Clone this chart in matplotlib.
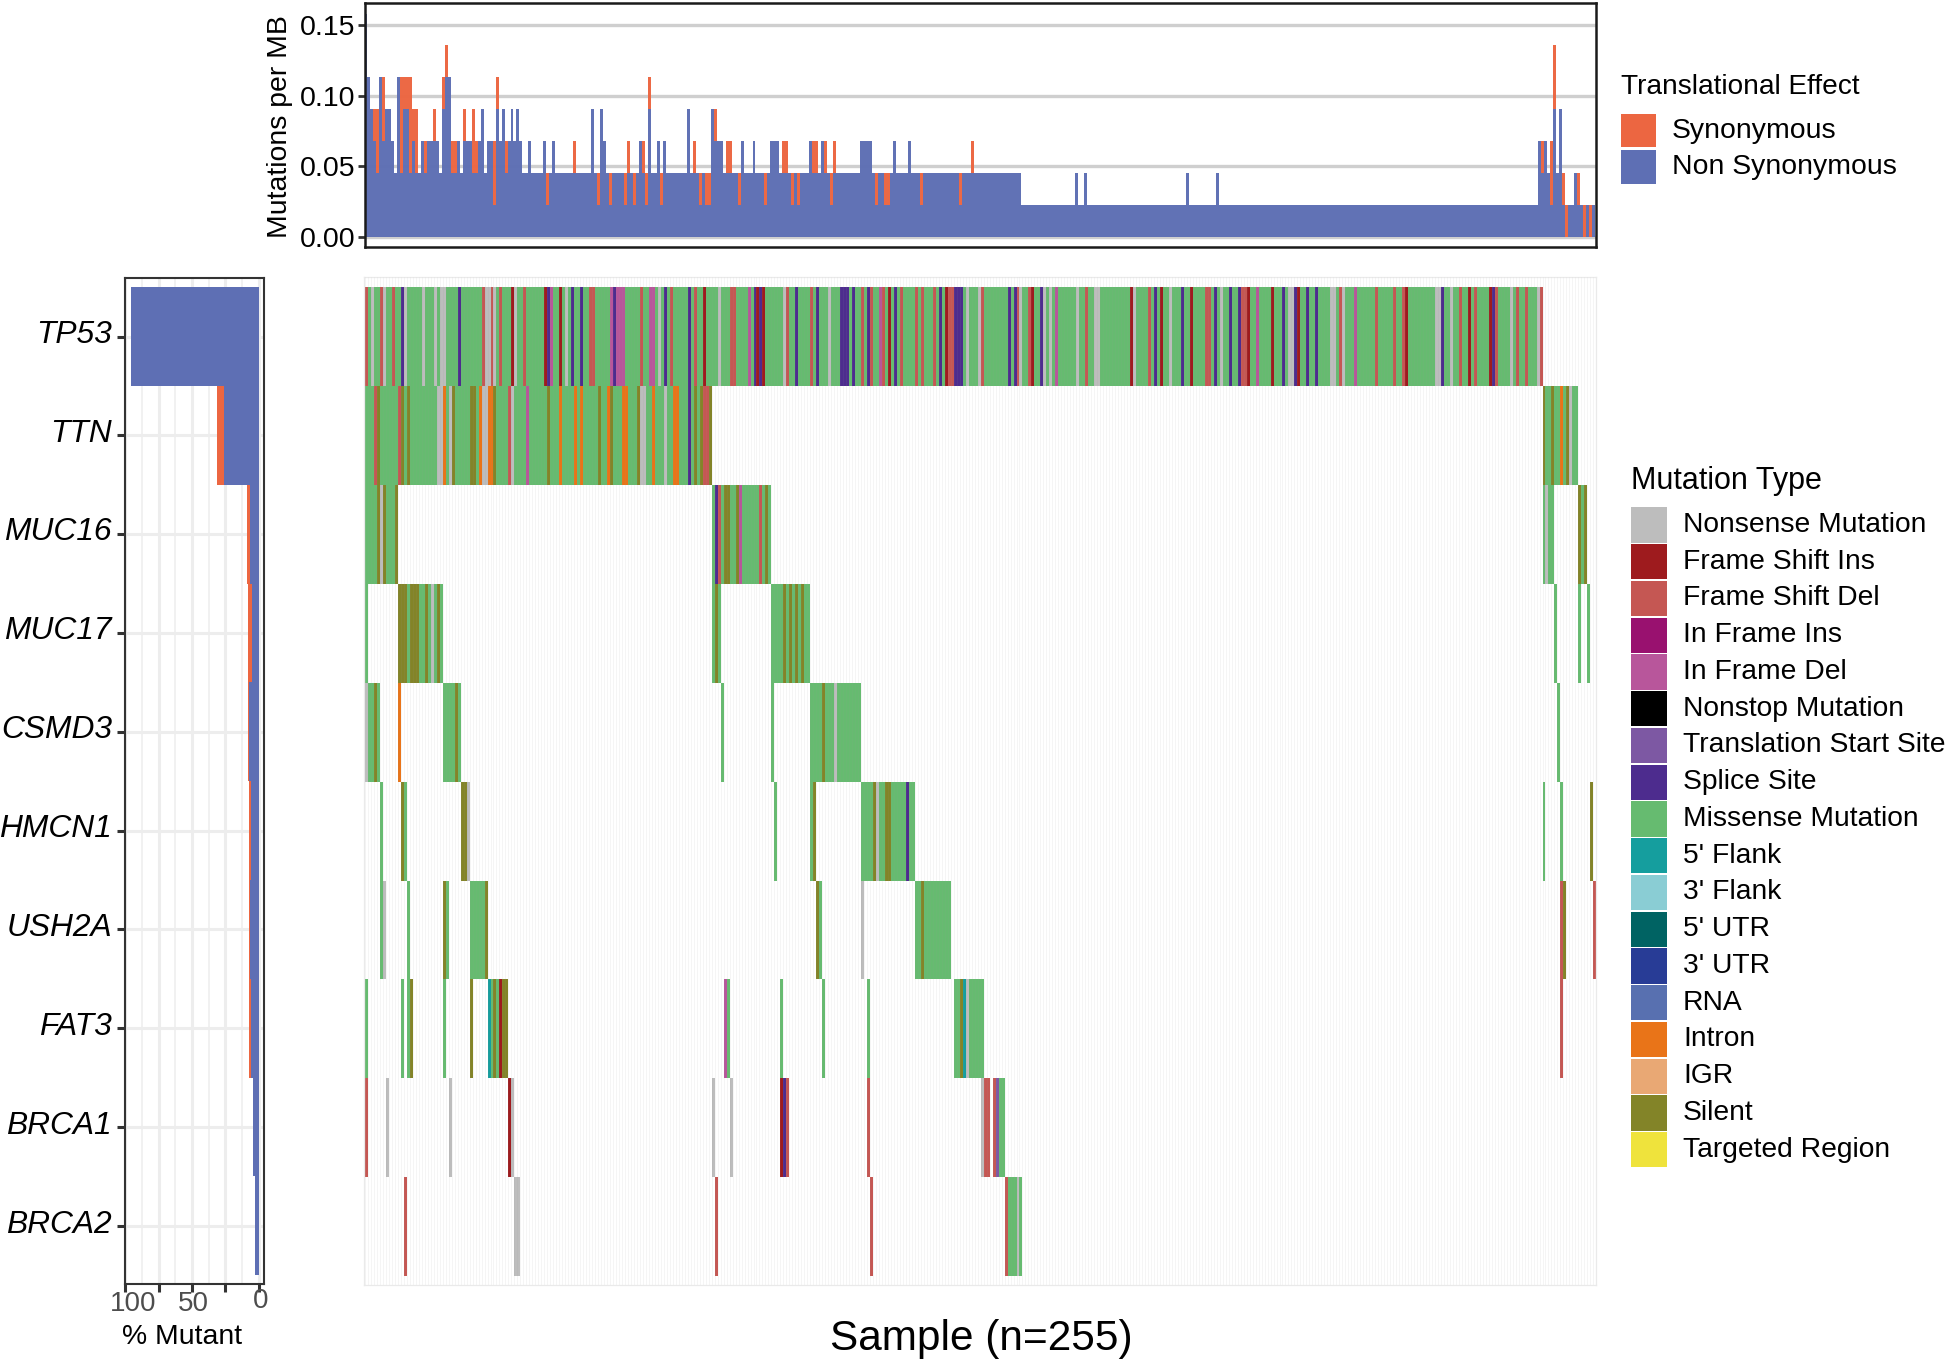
import numpy as np
import matplotlib
matplotlib.use('Agg')
import matplotlib.pyplot as plt
from matplotlib.colors import ListedColormap
from matplotlib.patches import Rectangle

plt.rcParams['font.family'] = ['Liberation Sans', 'DejaVu Sans']

W, H = 1946, 1363
N_COLS = 412

genes = ['TP53', 'TTN', 'MUC16', 'MUC17', 'CSMD3', 'HMCN1', 'USH2A', 'FAT3', 'BRCA1', 'BRCA2']

# mutation types, order of the legend
mut_types = ['Nonsense Mutation', 'Frame Shift Ins', 'Frame Shift Del', 'In Frame Ins', 'In Frame Del',
             'Nonstop Mutation', 'Translation Start Site', 'Splice Site', 'Missense Mutation', "5' Flank",
             "3' Flank", "5' UTR", "3' UTR", 'RNA', 'Intron', 'IGR', 'Silent', 'Targeted Region']
mut_colors = ['#BDBDBD', '#9E1B1E', '#C55753', '#99116F', '#B8569B', '#000000', '#7D58A3', '#4D2C8E', '#66BB70',
              '#159E9E', '#8ACDD4', '#006363', '#283C96', '#5870B0', '#E97418', '#E9A874', '#838428', '#EFE33C']

# missense blocks per gene (first and last sample, both included)
missense = {
    'TP53': [(0, 393)],
    'TTN': [(0, 115), (394, 405)],
    'MUC16': [(0, 10), (116, 135), (394, 397), (406, 408)],
    'MUC17': [(0, 0), (11, 25), (116, 118), (136, 148), (398, 398), (406, 406), (409, 409)],
    'CSMD3': [(0, 4), (11, 11), (26, 31), (119, 119), (136, 136), (149, 165), (399, 399)],
    'HMCN1': [(5, 5), (12, 13), (32, 34), (137, 137), (149, 150), (166, 183), (394, 394), (400, 400)],
    'USH2A': [(5, 5), (14, 14), (27, 27), (35, 40), (152, 152), (184, 195)],
    'FAT3': [(0, 0), (12, 12), (14, 14), (26, 26), (41, 47), (121, 121), (139, 139), (153, 153), (168, 168), (197, 206)],
    'BRCA1': [(212, 213)],
    'BRCA2': [(215, 219)],
}

# samples with another mutation type than missense, per gene
others = {
    'TP53': {
        'Nonsense Mutation': [2, 6, 13, 19, 23, 25, 26, 40, 41, 43, 50, 67, 98, 118, 140, 155, 201, 205, 219, 227,
                              229, 238, 244, 245, 257, 269, 286, 309, 310, 323, 324, 327, 358, 359, 363, 383, 392],
        'Frame Shift Del': [0, 5, 9, 39, 42, 45, 53, 75, 76, 92, 102, 110, 122, 123, 141, 149, 166, 169, 173, 179,
                            184, 186, 190, 195, 196, 206, 218, 222, 241, 262, 281, 282, 293, 294, 326, 338, 344,
                            347, 366, 371, 378, 385, 388, 393],
        'Frame Shift Ins': [49, 60, 65, 113, 131, 133, 175, 194, 223, 256, 266, 276, 295, 303, 312, 348, 369, 376],
        'In Frame Del': [62, 82, 84, 85, 86, 95, 96, 128, 172, 231, 298, 331],
        'Splice Site': [12, 31, 61, 69, 72, 83, 100, 108, 130, 132, 144, 151, 159, 160, 161, 163, 168, 177, 192,
                        197, 198, 199, 215, 217, 226, 264, 273, 284, 289, 292, 307, 311, 315, 318, 360, 377],
    },
    'TTN': {
        'Nonsense Mutation': [24, 25, 28, 39, 40, 49, 92, 93, 100, 403],
        'Frame Shift Del': [3, 11, 48, 113, 114],
        'In Frame Del': [54],
        'Splice Site': [108],
        'Intron': [26, 38, 41, 42, 65, 70, 72, 81, 86, 87, 96, 103, 104, 400],
        'Silent': [4, 12, 14, 29, 35, 36, 43, 61, 78, 82, 91, 110, 112, 115, 394, 397, 402],
    },
    'MUC16': {
        'Nonsense Mutation': [5, 395],
        'Frame Shift Del': [118, 132],
        'In Frame Del': [125],
        'Splice Site': [117],
        'Silent': [4, 6, 10, 120, 121, 124, 134, 406, 408],
    },
    'MUC17': {
        'Nonsense Mutation': [22],
        'Silent': [11, 12, 13, 15, 16, 17, 20, 24, 117, 140, 142, 144, 146],
    },
    'CSMD3': {
        'Nonsense Mutation': [0, 157],
        'Intron': [11],
        'Silent': [3, 30, 153],
    },
    'HMCN1': {
        'Nonsense Mutation': [34, 171],
        'Splice Site': [181],
        'Silent': [12, 32, 33, 150, 170, 174, 175, 410],
    },
    'USH2A': {
        'Nonsense Mutation': [6, 166],
        'Frame Shift Del': [400, 411],
        'Silent': [26, 40, 151, 186, 401],
    },
    'FAT3': {
        'Nonsense Mutation': [201],
        'Frame Shift Ins': [45],
        'Frame Shift Del': [400],
        'In Frame Del': [120],
        "5' Flank": [41, 200],
        'Silent': [15, 35, 43, 46, 47, 199],
    },
    'BRCA1': {
        'Nonsense Mutation': [7, 28, 49, 116, 122, 206],
        'Frame Shift Ins': [48, 139],
        'Frame Shift Del': [0, 141, 168, 207, 208, 210],
        'Translation Start Site': [211],
        'Splice Site': [140],
    },
    'BRCA2': {
        'Nonsense Mutation': [50, 51, 218],
        'Frame Shift Del': [13, 117, 169, 214],
    },
}

# mutation burden: plain blocks (first, last, non synonymous count), then samples which differ
burden_step = 0.0226
burden_blocks = [(0, 52, 3), (53, 219, 2), (220, 392, 1)]
# sample, non synonymous, synonymous
burden_spikes = [
    (0, 7, 0), (1, 5, 0), (2, 4, 0), (3, 3, 1), (4, 2, 2), (5, 5, 0), (6, 3, 2), (7, 4, 0), (8, 4, 0),
    (10, 2, 0), (11, 5, 0), (12, 2, 3), (13, 4, 1), (14, 4, 1), (15, 2, 3), (16, 3, 1), (17, 2, 2), (18, 2, 0),
    (20, 2, 1), (23, 3, 1), (25, 2, 0), (26, 4, 1), (27, 5, 1), (28, 5, 0), (29, 2, 1), (30, 2, 1), (32, 2, 0),
    (33, 3, 1), (36, 2, 2), (37, 2, 1), (39, 4, 0), (40, 2, 0), (43, 1, 2), (44, 4, 1), (46, 4, 0), (47, 2, 1),
    (49, 4, 0), (51, 4, 0),
    (55, 3, 0), (60, 3, 0), (61, 1, 1), (63, 3, 0), (70, 2, 1), (76, 4, 0), (78, 1, 1), (79, 4, 0), (80, 3, 0),
    (82, 1, 1), (87, 1, 1), (88, 2, 1), (90, 1, 1), (92, 3, 0), (93, 2, 1), (94, 1, 1), (95, 4, 1), (98, 3, 0),
    (99, 1, 1), (100, 3, 0), (108, 4, 0), (110, 2, 1), (112, 1, 1), (114, 1, 1), (115, 1, 1), (116, 4, 0),
    (117, 3, 1), (118, 3, 0), (119, 3, 0), (121, 2, 1), (122, 2, 1), (125, 1, 1), (126, 3, 0), (130, 3, 0),
    (134, 1, 1), (136, 3, 0), (137, 3, 0), (138, 3, 0), (140, 2, 1), (141, 2, 1), (143, 1, 1), (145, 1, 1),
    (149, 3, 0), (150, 2, 1), (151, 2, 1), (153, 3, 0), (154, 2, 1), (156, 1, 1), (157, 2, 1), (166, 3, 0),
    (167, 3, 0), (168, 3, 0), (169, 3, 0), (171, 1, 1), (174, 1, 1), (175, 1, 1), (177, 3, 0), (182, 3, 0),
    (186, 1, 1), (199, 1, 1), (203, 2, 1),
    (238, 2, 0), (241, 2, 0), (275, 2, 0), (285, 2, 0),
    (393, 3, 0), (394, 2, 1), (395, 3, 0), (396, 2, 0), (397, 1, 2), (398, 4, 2), (399, 2, 0), (400, 4, 0),
    (401, 1, 1), (402, 0, 1), (403, 1, 0), (404, 1, 0), (405, 2, 0), (406, 1, 1), (407, 1, 0), (408, 0, 1),
    (409, 1, 0), (410, 0, 1), (411, 1, 0),
]
burden_ticks = [0.00, 0.05, 0.10, 0.15]

# percent of samples per gene
pct_nonsyn = [95.6, 26, 6.5, 5, 7, 5.5, 6.2, 6, 4.5, 2.5]
pct_syn = [0, 5, 2.5, 3.3, 0.8, 1.8, 0.8, 1, 0, 0]

syn_color = '#EC6641'
nonsyn_color = '#5E6FB4'


def px_axes(fig, x0, y0, x1, y1):
    # pixel box with y from the top of the picture
    return fig.add_axes([x0 / W, 1 - y1 / H, (x1 - x0) / W, (y1 - y0) / H])


def px_text(fig, x, y, s, **kw):
    kw.setdefault('va', 'center')
    fig.text(x / W, 1 - y / H, s, **kw)


def px_box(fig, x0, y0, x1, y1, color):
    fig.add_artist(Rectangle((x0 / W, 1 - y1 / H), (x1 - x0) / W, (y1 - y0) / H,
                             transform=fig.transFigure, facecolor=color, edgecolor='none'))


def build_matrix():
    mat = np.full((len(genes), N_COLS), np.nan)
    missense_code = mut_types.index('Missense Mutation')
    for r, gene in enumerate(genes):
        for first, last in missense[gene]:
            mat[r, first:last + 1] = missense_code
        for name, cols in others[gene].items():
            mat[r, cols] = mut_types.index(name)
    return mat


def build_burden():
    ns = np.zeros(N_COLS)
    syn = np.zeros(N_COLS)
    for first, last, count in burden_blocks:
        ns[first:last + 1] = count
    for col, n, s in burden_spikes:
        ns[col] = n
        syn[col] = s
    return ns * burden_step, syn * burden_step


def plot_burden(fig):
    ax = px_axes(fig, 365, 3, 1595.5, 247)
    ns, syn = build_burden()
    cols = np.arange(N_COLS)
    ax.bar(cols, ns, width=1, color=nonsyn_color, linewidth=0, zorder=2, alpha=0.98)
    ax.bar(cols, syn, width=1, bottom=ns, color=syn_color, linewidth=0, zorder=2, alpha=0.98)
    for t in burden_ticks:
        ax.axhline(t, color='#CFCFCF', lw=2.4, zorder=1)
    ax.set_xlim(-0.2, N_COLS - 0.35)
    ax.set_ylim(-0.0073, 0.1657)
    ax.set_xticks([])
    ax.set_yticks(burden_ticks)
    ax.set_yticklabels(['%.2f' % t for t in burden_ticks], fontsize=20.5, color='black')
    ax.tick_params(axis='y', length=5, width=2, color='#333333', pad=2)
    for s in ax.spines.values():
        s.set_linewidth(1.8)
        s.set_color('#1a1a1a')
    px_text(fig, 280, 127, 'Mutations per MB', fontsize=20.4, rotation=90, ha='center')


def plot_percent(fig):
    ax = px_axes(fig, 125.3, 278, 264.3, 1284)
    rows = np.arange(len(genes))
    ax.barh(rows, pct_nonsyn, height=1, color=nonsyn_color, linewidth=0, zorder=2)
    ax.barh(rows, pct_syn, left=pct_nonsyn, height=1, color=syn_color, linewidth=0, zorder=2)
    ax.set_xlim(100, -4.2)
    ax.set_ylim(9.5 + 8.9 / 98.87, -0.5 - 9.3 / 98.87)
    ax.set_xticks([100, 75, 50, 25, 0])
    ax.set_xticklabels([])
    ax.set_xticks([87.5, 62.5, 37.5, 12.5], minor=True)
    ax.set_yticks(rows)
    ax.set_yticklabels([])
    ax.grid(True, which='major', color='#EDEDED', lw=2.2, zorder=1)
    ax.grid(True, which='minor', axis='x', color='#EFEFEF', lw=1.2, zorder=1)
    ax.set_axisbelow(True)
    ax.tick_params(axis='both', which='major', length=5.5, width=2.2, color='#333333')
    ax.tick_params(axis='both', which='minor', length=0)
    for s in ax.spines.values():
        s.set_linewidth(1.5)
        s.set_color('#333333')
    ys = 287.3 + 98.87 * (rows + 0.5)
    for y, gene in zip(ys, genes):
        px_text(fig, 112, y - 2, gene, fontsize=22.9, style='italic', ha='right')
    px_text(fig, 133, 1304, '100', fontsize=20, ha='center', color='#4D4D4D')
    px_text(fig, 193, 1304, '50', fontsize=20, ha='center', color='#4D4D4D')
    px_text(fig, 261, 1301, '0', fontsize=20, ha='center', color='#4D4D4D')
    px_text(fig, 182.5, 1337, '% Mutant', fontsize=20.4, ha='center')


def plot_waterfall(fig):
    ax = px_axes(fig, 364, 277, 1596, 1285)
    mat = build_matrix()
    cmap = ListedColormap(mut_colors)
    cmap.set_bad('white')
    x_edges = np.arange(N_COLS + 1)
    y_edges = np.arange(len(genes) + 1)
    ax.pcolormesh(x_edges, y_edges, np.ma.masked_invalid(mat), cmap=cmap, vmin=-0.5,
                  vmax=len(mut_types) - 0.5, zorder=2, linewidth=0, rasterized=True)
    # faint tile borders
    ax.vlines(x_edges, -0.1, len(genes) + 0.1, color='#9a9a9a', lw=0.5, alpha=0.13, zorder=3)
    ax.hlines(y_edges[1:-1], -0.4, N_COLS, color='#e8e8e8', lw=0.9, zorder=1)
    ax.set_xlim(-0.33, N_COLS - 0.1)
    ax.set_ylim(len(genes) + 9 / 98.87, -10.3 / 98.87)
    ax.set_xticks([])
    ax.set_yticks([])
    for s in ax.spines.values():
        s.set_linewidth(0.9)
        s.set_color('#EAEAEA')
    px_text(fig, 981, 1339, 'Sample (n=255)', fontsize=30.5, ha='center')


def plot_legends(fig):
    px_text(fig, 1621, 87, 'Translational Effect', fontsize=20.2)
    px_box(fig, 1621, 114, 1656, 147, syn_color)
    px_box(fig, 1621, 150, 1656, 184, nonsyn_color)
    px_text(fig, 1672, 131, 'Synonymous', fontsize=20.4)
    px_text(fig, 1672, 167, 'Non Synonymous', fontsize=20.4)

    px_text(fig, 1631, 481, 'Mutation Type', fontsize=22)
    for k, (name, color) in enumerate(zip(mut_types, mut_colors)):
        top = 507.4 + 36.75 * k
        px_box(fig, 1631, top, 1667, top + 35.2, color)
        px_text(fig, 1683, top + 17.5, name, fontsize=20.3)


def main():
    fig = plt.figure(figsize=(W / 100, H / 100), dpi=100)
    plot_burden(fig)
    plot_percent(fig)
    plot_waterfall(fig)
    plot_legends(fig)
    fig.savefig('out.png', dpi=100)
    plt.close(fig)


if __name__ == '__main__':
    main()
